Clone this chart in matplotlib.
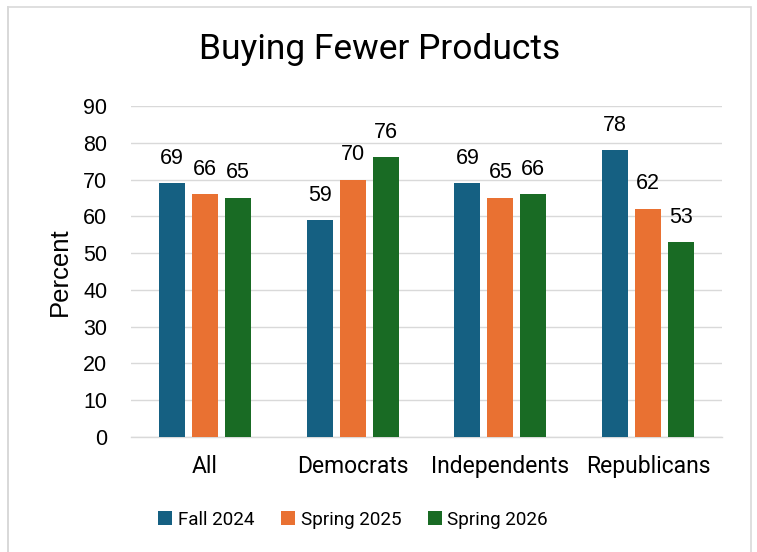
import numpy as np
import matplotlib.pyplot as plt
from matplotlib.patches import Rectangle

categories = ["All", "Democrats", "Independents", "Republicans"]
series_names = ["Fall 2024", "Spring 2025", "Spring 2026"]
fall_2024 = [69, 59, 69, 78]
spring_2025 = [66, 70, 65, 62]
spring_2026 = [65, 76, 66, 53]
colors = ["#156082", "#E97132", "#196B24"]

num_font = "Liberation Sans"
txt_font = "Roboto"

fig = plt.figure(figsize=(7.57, 5.52), dpi=100, facecolor="white")

# chart frame
fig.patches.append(Rectangle((8/757, -0.01), 743/757, 1 - 7/552 + 0.01,
                             transform=fig.transFigure, fill=False,
                             edgecolor="#d9d9d9", linewidth=1.2))
fig.patches.append(Rectangle((7/757, -0.01), 2/757, 1.0,
                             transform=fig.transFigure, color="#d9d9d9", linewidth=0))

ax = fig.add_axes([131/757, 1 - 437/552, 591/757, 331/552])

x = np.arange(len(categories))
width = 0.176
pitch = 0.223
for i, (vals, name) in enumerate(zip([fall_2024, spring_2025, spring_2026], series_names)):
    bars = ax.bar(x + (i - 1)*pitch, vals, width, color=colors[i], label=name, zorder=3)
    for b, v in zip(bars, vals):
        ax.text(b.get_x() + b.get_width()/2, v + 6.8, str(v), ha="center", va="center",
                fontsize=15.5, family=num_font, color="#000000")

ax.set_xlim(-0.5, len(categories) - 0.5)
ax.set_ylim(0, 90)
ax.set_yticks(range(0, 91, 10))
ax.set_xticks(x)
ax.set_xticklabels(categories, fontsize=16.5, family=txt_font)
for t in ax.get_yticklabels():
    t.set_fontsize(15.5)
    t.set_family(num_font)

ax.grid(axis="y", color="#d9d9d9", linewidth=1, zorder=0)
for s in ["top", "right", "left"]:
    ax.spines[s].set_visible(False)
ax.spines["bottom"].set_color("#d9d9d9")
ax.spines["bottom"].set_linewidth(1)
ax.tick_params(axis="both", length=0)
ax.tick_params(axis="x", pad=13)
ax.tick_params(axis="y", pad=17)

ax.set_ylabel("Percent", fontsize=18.5, family=num_font, labelpad=8)

fig.text(380/757, 1 - 50/552, "Buying Fewer Products", ha="center", va="center",
         fontsize=25.5, family=txt_font)

fig.legend(loc="center", bbox_to_anchor=(353/757, 1 - 520/552), ncol=3, frameon=False,
           prop={"family": txt_font, "size": 13.6}, handlelength=0.75, handleheight=0.75,
           handletextpad=0.3, columnspacing=1.4)

fig.savefig("out.png", dpi=100, facecolor="white")
